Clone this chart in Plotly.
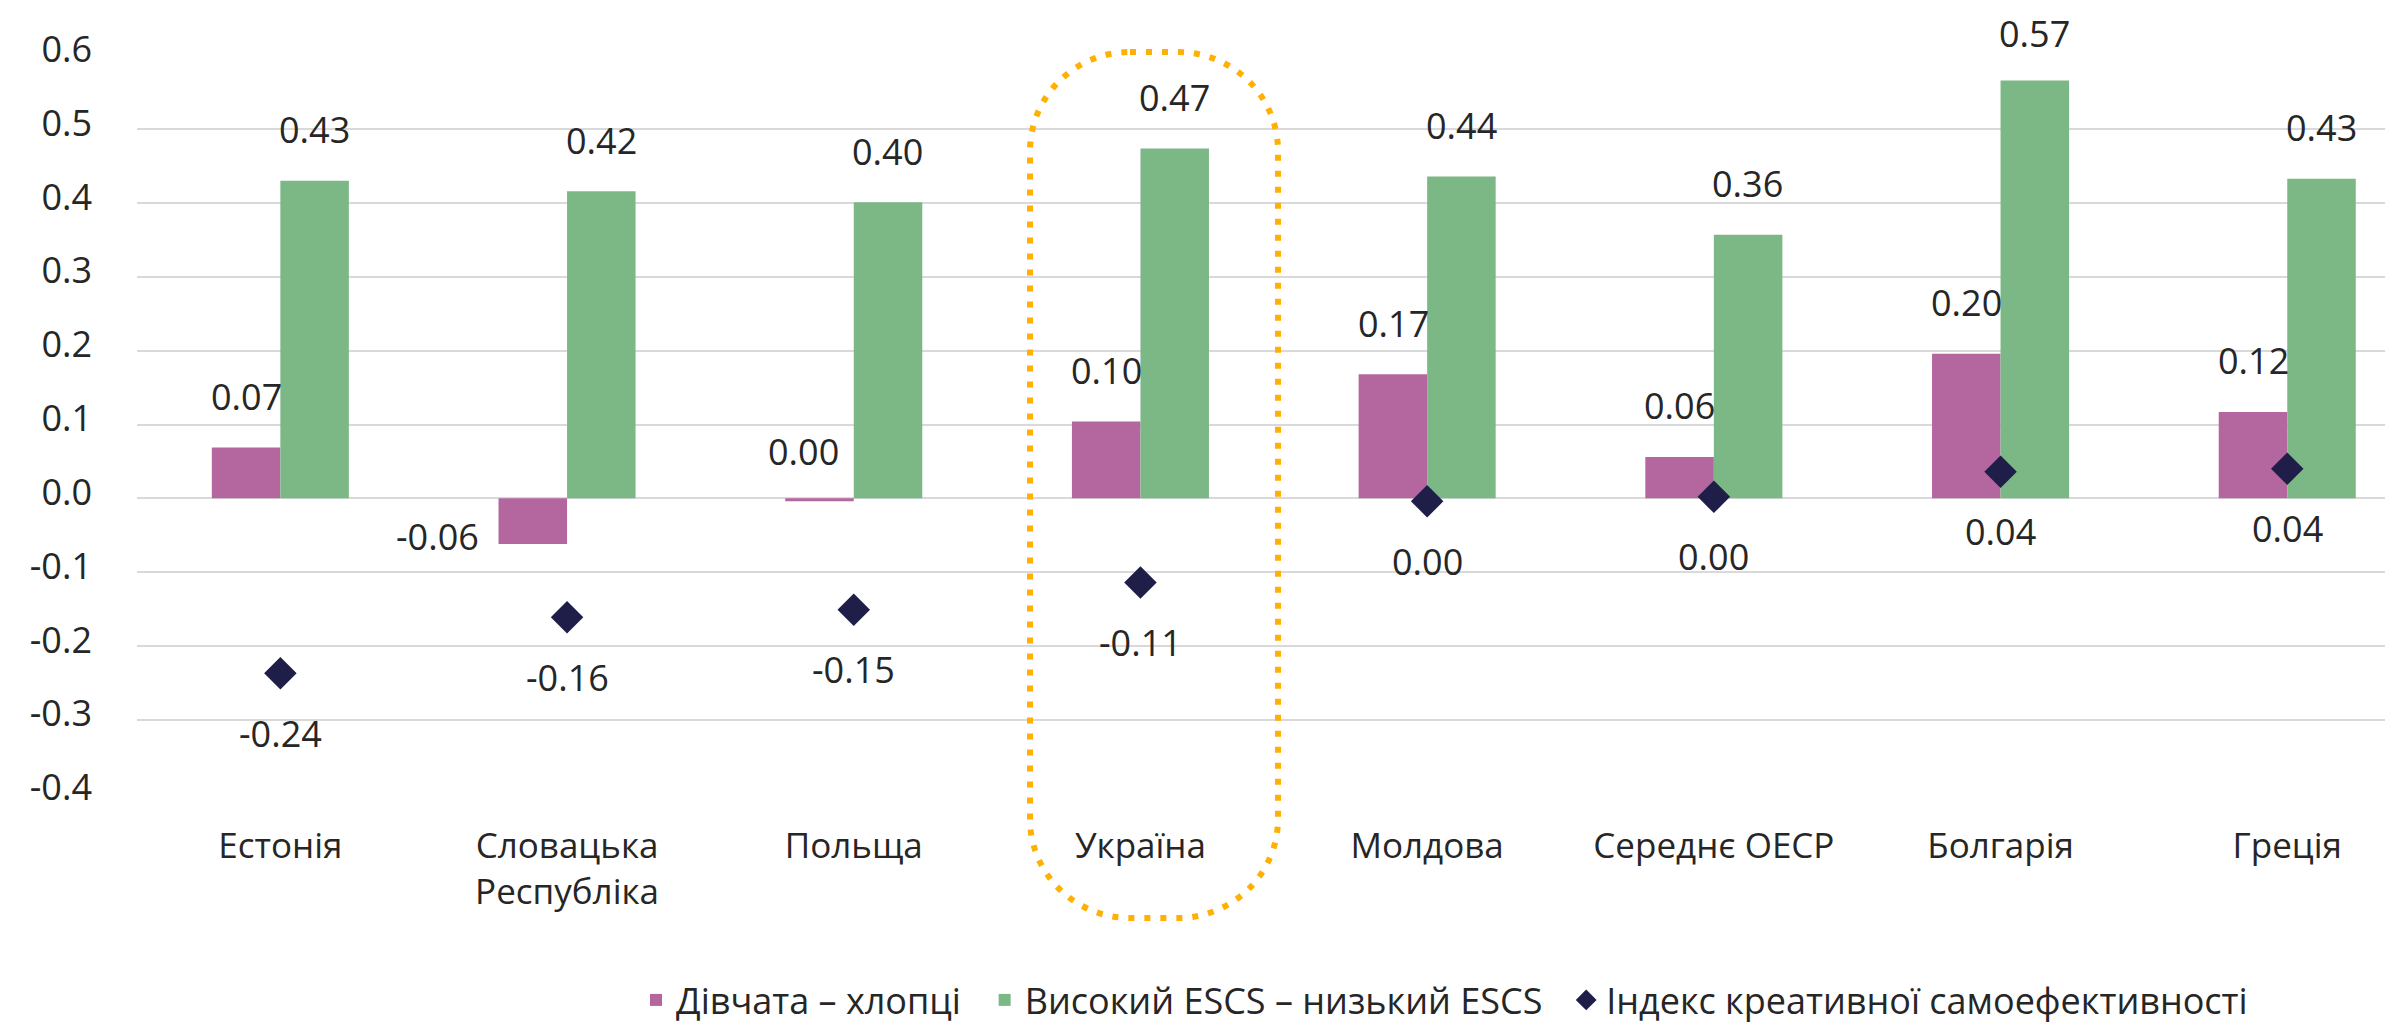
import plotly.graph_objects as go

# ---------------- data ----------------
categories = ["Естонія", "Словацька<br>Республіка", "Польща", "Україна",
              "Молдова", "Середнє ОЕСР", "Болгарія", "Греція"]
girls_minus_boys = [0.069, -0.062, -0.004, 0.104, 0.168, 0.056, 0.196, 0.117]
high_minus_low_escs = [0.430, 0.416, 0.401, 0.474, 0.436, 0.357, 0.566, 0.433]
creative_index = [-0.237, -0.161, -0.151, -0.114, -0.004, 0.002, 0.036, 0.040]
series_names = ["Дівчата – хлопці", "Високий ESCS – низький ESCS",
                "Індекс креативної самоефективності"]
y_ticks = [-0.4, -0.3, -0.2, -0.1, 0.0, 0.1, 0.2, 0.3, 0.4, 0.5, 0.6]

# ---------------- style ----------------
PINK = "#B4669F"
GREEN = "#7CB886"
NAVY = "#1E1E48"
ORANGE = "#FFB000"
TEXT = "#262626"
FONT = "Open Sans"
W, H = 2393, 1022
L, R, T, B = 129, 0, 47, 230
PW, PH = W - L - R, H - T - B
NBSP = "\u00a0"

# label offsets in pixels (x, y) relative to the data point
pink_dx = [-34, -130, -50, -34, -34, -34, -34, -34]
pink_dy = [51, 8, 50, 51, 51, 51, 51, 51]
green_dx = 34
green_dy = [51, 51, 51, 51, 51, 51, 47, 51]
idx_dx, idx_dy = 0, -60


def fmt(v):
    s = f"{v:.2f}"
    return "0.00" if s == "-0.00" else s


fig = go.Figure()
fig.add_trace(go.Bar(x=categories, y=girls_minus_boys, name=series_names[0] + NBSP * 2,
                     marker=dict(color=PINK, line=dict(width=0))))
fig.add_trace(go.Bar(x=categories, y=high_minus_low_escs, name=series_names[1] + NBSP * 2,
                     marker=dict(color=GREEN, line=dict(width=0))))
fig.add_trace(go.Scatter(x=categories, y=creative_index, name=series_names[2],
                         mode="markers",
                         marker=dict(symbol="diamond", size=25, color=NAVY)))

annotations = []
for i, c in enumerate(categories):
    annotations.append(dict(x=c, y=girls_minus_boys[i], text=fmt(girls_minus_boys[i]),
                            xshift=pink_dx[i], yshift=pink_dy[i]))
    annotations.append(dict(x=c, y=high_minus_low_escs[i], text=fmt(high_minus_low_escs[i]),
                            xshift=green_dx, yshift=green_dy[i]))
    annotations.append(dict(x=c, y=creative_index[i], text=fmt(creative_index[i]),
                            xshift=idx_dx, yshift=idx_dy))
for a in annotations:
    a.update(xref="x", yref="y", showarrow=False,
             font=dict(family=FONT, size=36, color=TEXT))


# dotted rounded rectangle highlighting Ukraine (decoration, in paper coords)
def P(px, py):
    return f"{(px - L) / PW:.5f},{(H - B - py) / PH:.5f}"


x0, x1, y0, y1, r = 1022, 1270, 44, 917, 100
k = 0.5523 * r
path = (f"M{P(x0 + r, y0)} L{P(x1 - r, y0)} "
        f"C{P(x1 - r + k, y0)} {P(x1, y0 + r - k)} {P(x1, y0 + r)} "
        f"L{P(x1, y1 - r)} "
        f"C{P(x1, y1 - r + k)} {P(x1 - r + k, y1)} {P(x1 - r, y1)} "
        f"L{P(x0 + r, y1)} "
        f"C{P(x0 + r - k, y1)} {P(x0, y1 - r + k)} {P(x0, y1 - r)} "
        f"L{P(x0, y0 + r)} "
        f"C{P(x0, y0 + r - k)} {P(x0 + r - k, y0)} {P(x0 + r, y0)} Z")

fig.update_layout(
    width=W, height=H,
    margin=dict(l=L, r=R, t=T, b=B, pad=0),
    paper_bgcolor="white", plot_bgcolor="white",
    font=dict(family=FONT, size=35, color=TEXT),
    barmode="group", bargap=0.522, bargroupgap=0,
    showlegend=True,
    legend=dict(orientation="h", x=(628 - L) / PW, xanchor="left",
                y=(H - B - 1000) / PH, yanchor="middle",
                font=dict(family=FONT, size=36, color=TEXT),
                bgcolor="rgba(0,0,0,0)", itemclick=False),
    annotations=annotations,
    shapes=[dict(type="path", path=path, xref="paper", yref="paper",
                 line=dict(color=ORANGE, width=6, dash="6px,10px"),
                 fillcolor="rgba(0,0,0,0)", layer="above")],
)
fig.update_xaxes(type="category", categoryorder="array", categoryarray=categories,
                 range=[-0.5, -0.5 + PW / 286.7], showgrid=False, zeroline=False,
                 showline=False, ticks="", ticklabelstandoff=28,
                 tickfont=dict(family=FONT, size=35, color=TEXT))
fig.update_yaxes(range=[-0.4005, 0.6005], tickvals=y_ticks,
                 ticktext=[f"{v:.1f}" for v in y_ticks],
                 showgrid=True, gridcolor="#D9D9D9", gridwidth=2,
                 zeroline=False, showline=False, ticks="", ticklabelstandoff=44,
                 ticklabelshift=-6,
                 tickfont=dict(family=FONT, size=36, color=TEXT))

fig.write_html("out.html")
